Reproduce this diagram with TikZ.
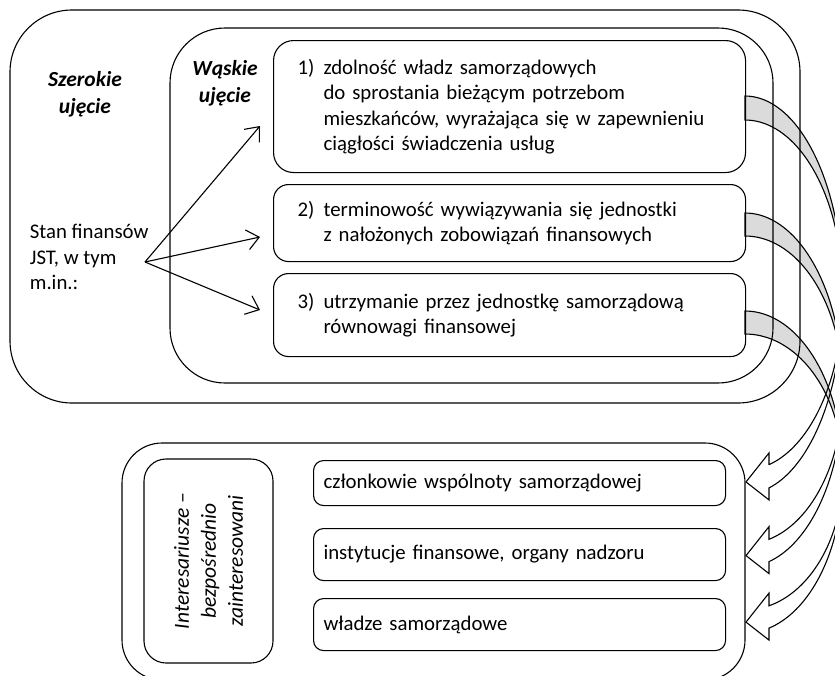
\documentclass[tikz,border=0pt]{standalone}
\usepackage{fontspec}
\setmainfont{Carlito}
\usetikzlibrary{arrows.meta}
\newcommand{\bodyfont}{\fontsize{20.8}{25.5}\selectfont}
\newcommand{\labelfont}{\fontsize{21.5}{27}\selectfont}
\newcommand{\lead}[1]{\makebox[26pt][l]{#1}}
\newcommand{\cont}{\hspace*{26pt}}
\newcommand{\definitions}{%
  % colour of the shaded back of the bent arrows
  \colorlet{colBack}{black!14}

  % broad frame
  \def\frameB{(10,10) rectangle (800,403)}
  % narrow frame
  \def\frameN{(170,28) rectangle (773,383)}
  % frame of the stakeholders
  \def\frameI{(122,443) rectangle (745,680)}

  % start of the straight arrows
  \coordinate (src) at (145,262);
  % ends of the straight arrows
  \coordinate (e1) at (260,126);
  \coordinate (e2) at (260,237);
  \coordinate (e3) at (260,310);
}

\begin{document}
\begin{tikzpicture}[x=1pt,y=-1pt,line width=1.1pt,
    box/.style={draw,rounded corners=#1,align=left,inner ysep=0pt,font=\bodyfont},
    box/.default=15pt]

  % define colours, frames and points
  \definitions
  \clip (0,0) rectangle (835,675);

  % shaded backs of the bent arrows
  \foreach \ya/\yb/\yc in {96/120/295, 213/236/390, 311/334/472}
    \filldraw[fill=colBack]
      plot[variable=\ang,domain=-90:0,samples=40] ({745+98*cos(\ang)},{\yc+(\yc-\ya)*sin(\ang)})
      -- plot[variable=\ang,domain=0:-90,samples=40] ({745+98*cos(\ang)},{\yc+(\yc-\yb)*sin(\ang)})
      -- cycle;

  % draw the frames
  \draw[rounded corners=62pt] \frameB;
  \draw[rounded corners=55pt] \frameN;
  \draw[rounded corners=40pt] \frameI;

  % labels of the frames
  \node[font=\labelfont\bfseries\itshape,align=center] (broad) at (85,94) {Szerokie\\ujęcie};
  \node[font=\labelfont\bfseries\itshape,align=center] (narrow) at (225,83) {Wąskie\\ujęcie};
  \node[font=\bodyfont,align=left,anchor=west] (state) at (26,257) {Stan finansów\\JST, w tym\\m.in.:};

  % the three aspects
  \node[box=20pt,anchor=north west,minimum height=132pt,text width=424pt,inner xsep=24pt] (asp1) at (273,40)
    {\lead{1)}zdolność władz samorządowych\\\cont do sprostania bieżącym potrzebom\\\cont mieszkańców, wyrażająca się w zapewnieniu\\\cont ciągłości świadczenia usług};
  \node[box,anchor=north west,minimum height=77pt,text width=424pt,inner xsep=24pt] (asp2) at (273,184)
    {\lead{2)}terminowość wywiązywania się jednostki\\\cont z nałożonych zobowiązań finansowych};
  \node[box,anchor=north west,minimum height=83pt,text width=424pt,inner xsep=24pt] (asp3) at (273,273)
    {\lead{3)}utrzymanie przez jednostkę samorządową\\\cont równowagi finansowej};

  % straight arrows
  \foreach \k in {1,2,3}
    \draw[-{Straight Barb[length=12pt,width=20pt]}] (src) -- (e\k);

  % fronts of the bent arrows
  \foreach \ya/\yb/\yc in {96/120/295, 213/236/390, 311/334/472}
    \draw
      plot[variable=\ang,domain=0:75.82,samples=40] ({745+98*cos(\ang)},{\yc+(\yc-\ya)*sin(\ang)})
      -- ++(0,12) -- ++(-23,-18) -- ++(23,-29) -- ++(0,12)
      -- plot[variable=\ang,domain=75.82:0,samples=40] ({745+98*cos(\ang)},{\yc+(\yc-\yb)*sin(\ang)})
      -- cycle;

  % stakeholders
  \node[box=22pt,rotate=90,minimum width=204pt,minimum height=129pt,align=center,font=\labelfont\itshape] (stake) at (208.5,561)
    {Interesariusze –\\bezpośrednio\\zainteresowani};
  \node[box=10pt,anchor=north west,minimum height=45pt,text width=392pt,inner xsep=10pt] (grp1) at (313,460) {członkowie wspólnoty samorządowej};
  \node[box=10pt,anchor=north west,minimum height=52pt,text width=392pt,inner xsep=10pt] (grp2) at (313,528) {instytucje finansowe, organy nadzoru};
  \node[box=10pt,anchor=north west,minimum height=52pt,text width=392pt,inner xsep=10pt] (grp3) at (313,598) {władze samorządowe};

\end{tikzpicture}
\end{document}
